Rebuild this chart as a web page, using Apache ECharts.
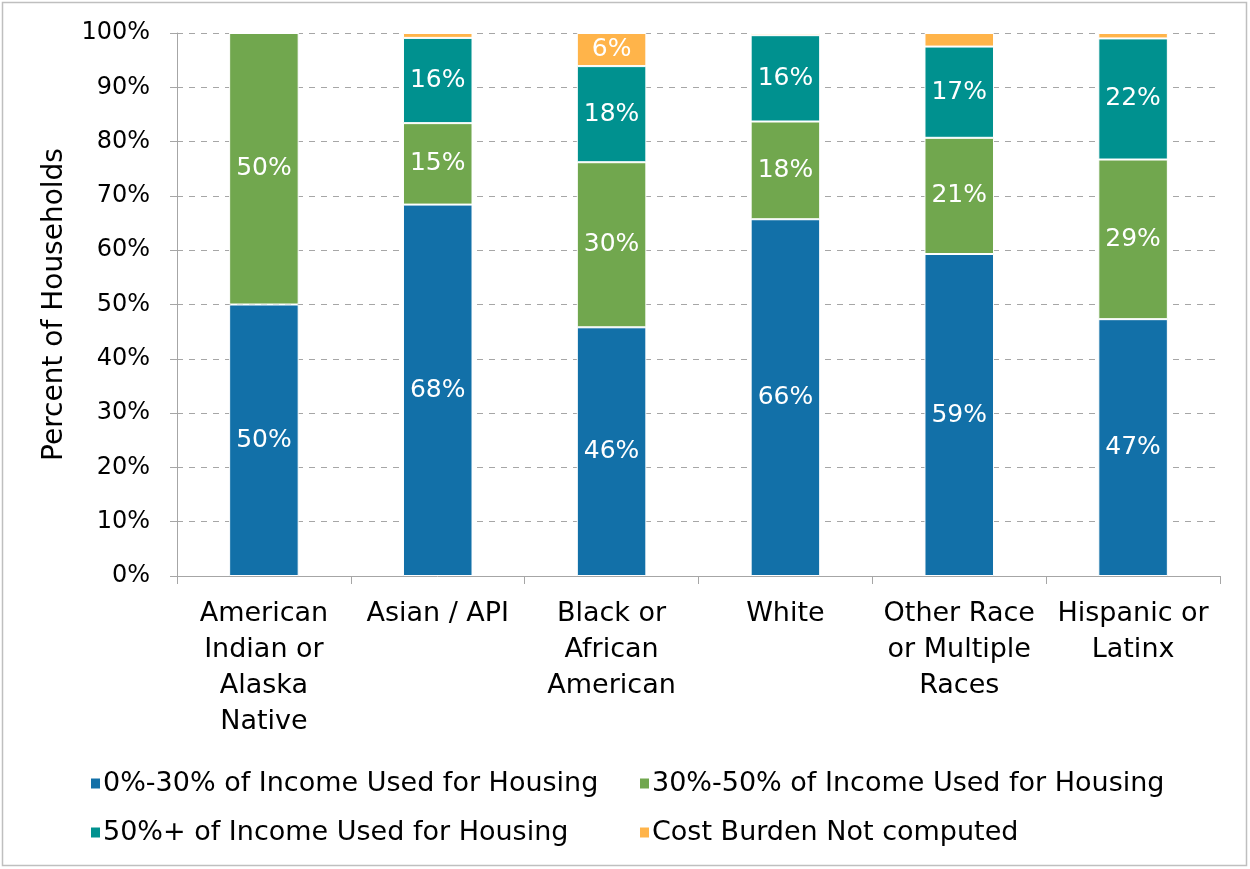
<!DOCTYPE html>
<html>
<head>
<meta charset="utf-8">
<script src="https://cdn.jsdelivr.net/npm/echarts@6/dist/echarts.min.js"></script>
<style>
    html, body { margin: 0; padding: 0; background: #fff; }
    #chart { width: 1250px; height: 869px; }
</style>
</head>
<body>
<div id="chart"></div>
<script>
const categories = ['American\nIndian or\nAlaska\nNative', 'Asian / API', 'Black or\nAfrican\nAmerican', 'White', 'Other Race\nor Multiple\nRaces', 'Hispanic or\nLatinx'];
const seriesNames = ['0%-30% of Income Used for Housing', '30%-50% of Income Used for Housing', '50%+ of Income Used for Housing', 'Cost Burden Not computed'];
const low = [50, 68.4, 45.8, 65.7, 59.3, 47.3];
const mid = [50, 15.0, 30.4, 18.0, 21.4, 29.4];
const high = [0, 15.7, 17.7, 15.9, 16.8, 22.3];
const notComputed = [0, 0.9, 6.1, 0.4, 2.5, 1.0];
const yTicks = [0, 10, 20, 30, 40, 50, 60, 70, 80, 90, 100];

const colors = ['#1270a8', '#71a74e', '#00918f', '#ffb44a'];
const fontFamily = '"DejaVu Sans", sans-serif';

const chart = echarts.init(document.getElementById('chart'));

function makeSeries(name, data, color) {
    return {
        name: name,
        type: 'bar',
        stack: 'total',
        barWidth: '40%',
        data: data,
        itemStyle: { color: color, borderColor: '#ffffff', borderWidth: 1 },
        label: {
            show: true,
            position: 'inside',
            color: '#ffffff',
            fontSize: 25,
            fontFamily: fontFamily,
            formatter: p => (p.value >= 5 ? Math.round(p.value) + '%' : '')
        }
    };
}

const legendPos = [[84, 765], [633, 765], [84, 814], [633, 814]];

const option = {
    animation: false,
    textStyle: { fontFamily: fontFamily },
    graphic: [{
        type: 'rect',
        shape: { x: 2.5, y: 2.5, width: 1244, height: 863 },
        style: { fill: 'none', stroke: '#bfbfbf', lineWidth: 1.5 },
        silent: true
    }],
    grid: { left: 177, right: 30, top: 33, bottom: 293 },
    legend: seriesNames.map((n, i) => ({
        data: [n],
        left: legendPos[i][0],
        top: legendPos[i][1],
        itemWidth: 11,
        itemHeight: 12,
        icon: 'rect',
        itemGap: 0,
        textStyle: { fontSize: 27, color: '#000', fontFamily: fontFamily, padding: [0, 0, 0, -3] }
    })),
    xAxis: {
        type: 'category',
        data: categories,
        axisTick: { show: true, length: 8, lineStyle: { color: '#a6a6a6' } },
        axisLine: { lineStyle: { color: '#a6a6a6', width: 1 } },
        axisLabel: {
            interval: 0,
            color: '#000',
            fontSize: 27,
            lineHeight: 36,
            margin: 20,
            fontFamily: fontFamily
        }
    },
    yAxis: {
        type: 'value',
        min: 0,
        max: 100,
        interval: 10,
        name: 'Percent of Households',
        nameLocation: 'middle',
        nameGap: 108,
        nameTextStyle: { fontSize: 28, color: '#000', fontFamily: fontFamily },
        axisLine: { show: true, lineStyle: { color: '#a6a6a6' } },
        axisTick: { show: true, length: 7, lineStyle: { color: '#a6a6a6' } },
        axisLabel: {
            color: '#000',
            fontSize: 24,
            margin: 27,
            fontFamily: fontFamily,
            formatter: v => (yTicks.indexOf(v) >= 0 ? v + '%' : '')
        },
        splitLine: { lineStyle: { type: [6, 6], color: '#a6a6a6' } }
    },
    series: [
        makeSeries(seriesNames[0], low, colors[0]),
        makeSeries(seriesNames[1], mid, colors[1]),
        makeSeries(seriesNames[2], high, colors[2]),
        makeSeries(seriesNames[3], notComputed, colors[3])
    ]
};

chart.setOption(option);
</script>
</body>
</html>
